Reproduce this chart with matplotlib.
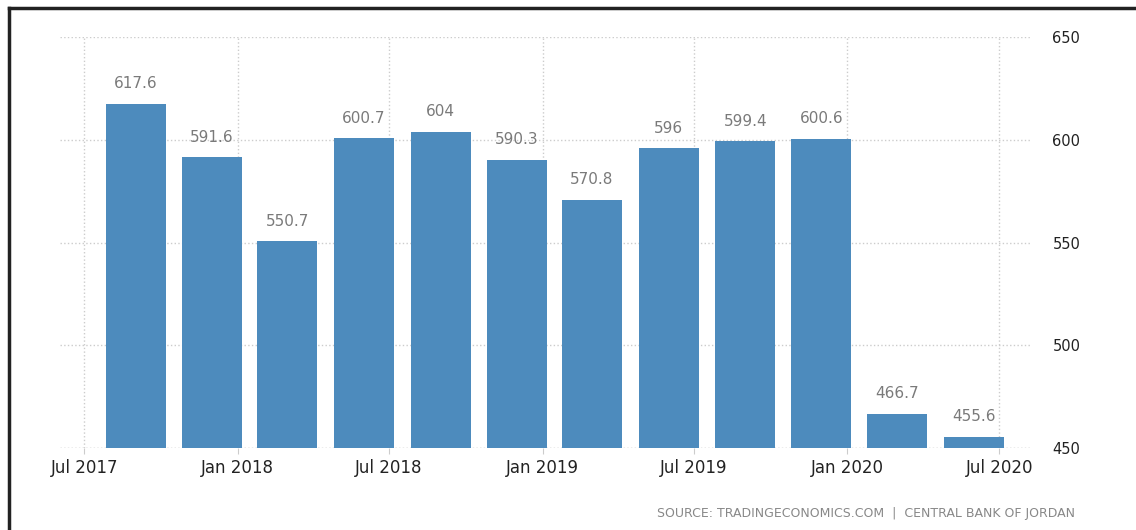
import pandas as pd
import matplotlib.pyplot as plt
import matplotlib.dates as mdates
from matplotlib.lines import Line2D

quarters = pd.date_range("2017-09-01", periods=12, freq="3MS")
values = [617.6, 591.6, 550.7, 600.7, 604, 590.3, 570.8, 596, 599.4, 600.6, 466.7, 455.6]
labels = ["617.6", "591.6", "550.7", "600.7", "604", "590.3", "570.8", "596", "599.4", "600.6", "466.7", "455.6"]
tick_dates = pd.date_range("2017-07-01", periods=7, freq="6MS")
y_ticks = [450, 500, 550, 600, 650]

fig = plt.figure(figsize=(11.36, 5.3), dpi=100)
ax = fig.add_axes([0.0528, 0.1547, 0.854, 0.7753])

ax.bar(quarters, [v - 450 for v in values], bottom=450, width=72, color="#4d8bbd", zorder=3)
for x, v, t in zip(quarters, values, labels):
    ax.text(x, v + 6, t, ha="center", va="bottom", fontsize=11, color="#7a7a7a")

ax.set_ylim(450, 650)
ax.set_xlim(pd.Timestamp("2017-06-02"), pd.Timestamp("2020-08-07"))
ax.set_xticks(tick_dates)
ax.xaxis.set_major_formatter(mdates.DateFormatter("%b %Y"))
ax.set_yticks(y_ticks)
ax.yaxis.tick_right()

ax.grid(True, linestyle=":", color="#cccccc", linewidth=1, zorder=0)
for s in ax.spines.values():
    s.set_visible(False)
ax.tick_params(axis="y", length=0, labelsize=10.5, labelcolor="#222222", pad=16)
ax.tick_params(axis="x", length=4, color="#cccccc", labelsize=12, labelcolor="#222222", pad=4)
ax.axhline(450, color="#cccccc", linestyle=":", linewidth=1, zorder=1)

fig.text(0.946, 0.032, "SOURCE: TRADINGECONOMICS.COM  |  CENTRAL BANK OF JORDAN",
         ha="right", va="center", fontsize=9, color="#888888")

# frame lines on the left and top
fig.add_artist(Line2D([0.008, 0.008], [0, 0.985], color="#222222", linewidth=2.5))
fig.add_artist(Line2D([0.008, 1.0], [0.985, 0.985], color="#222222", linewidth=2.5))

fig.savefig("out.png", dpi=100)
